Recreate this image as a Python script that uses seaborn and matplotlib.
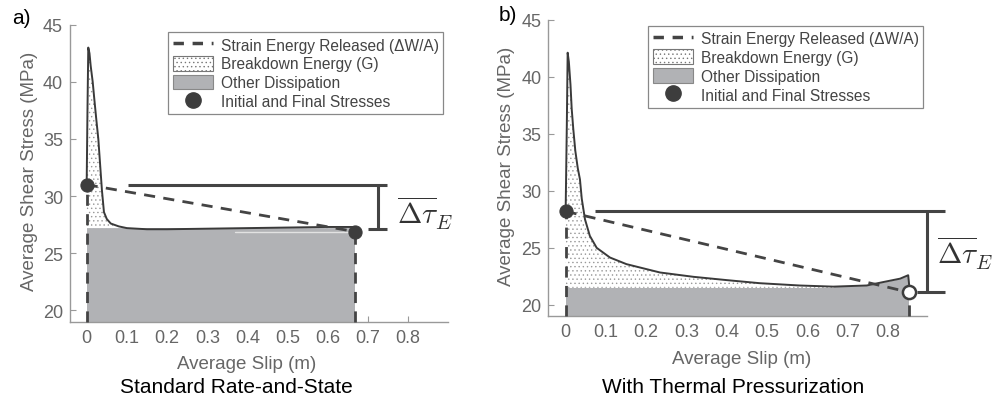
import numpy as np
import matplotlib
matplotlib.use("Agg")
import matplotlib.pyplot as plt
import seaborn as sns
from matplotlib.patches import Patch
from matplotlib.lines import Line2D

sns.set_style("ticks")
plt.rcParams['font.family'] = ['Liberation Sans', 'DejaVu Sans']
plt.rcParams['mathtext.fontset'] = 'cm'
plt.rcParams['hatch.linewidth'] = 0.5

# ---------------- data ----------------
# Panel a: Standard Rate-and-State
slip_a = [0.000, 0.002, 0.004, 0.007, 0.010, 0.015, 0.019, 0.024, 0.029, 0.035,
          0.038, 0.043, 0.050, 0.060, 0.080, 0.100, 0.150, 0.200, 0.300, 0.400,
          0.500, 0.600, 0.667]
stress_a = [31.0, 37.5, 43.0, 42.5, 41.4, 40.0, 38.5, 36.7, 35.0, 32.0,
            30.5, 28.6, 28.0, 27.6, 27.35, 27.2, 27.1, 27.1, 27.15, 27.2,
            27.25, 27.3, 27.3]
init_a = (0.0, 31.0)
final_a = (0.667, 26.9)
base_a = 27.2

# Panel b: With Thermal Pressurization
slip_b = [0.000, 0.003, 0.005, 0.008, 0.012, 0.015, 0.019, 0.024, 0.030, 0.0355,
          0.040, 0.048, 0.060, 0.077, 0.110, 0.151, 0.234, 0.317, 0.400, 0.482,
          0.580, 0.664, 0.747, 0.788, 0.830, 0.850, 0.853]
stress_b = [28.2, 36.0, 42.1, 41.3, 39.3, 37.2, 35.4, 33.5, 32.0, 31.0,
            29.3, 27.5, 26.05, 25.0, 24.15, 23.57, 22.84, 22.46, 22.17, 21.9,
            21.7, 21.6, 21.7, 22.0, 22.3, 22.6, 21.5]
init_b = (0.0, 28.2)
final_b = (0.853, 21.1)
base_b = 21.5

xticks = [0, 0.1, 0.2, 0.3, 0.4, 0.5, 0.6, 0.7, 0.8]
xtick_labels = ["0", "0.1", "0.2", "0.3", "0.4", "0.5", "0.6", "0.7", "0.8"]
yticks = [20, 25, 30, 35, 40, 45]
legend_labels = ["Strain Energy Released (\u0394W/A)", "Breakdown Energy (G)",
                 "Other Dissipation", "Initial and Final Stresses"]
titles = ["Standard Rate-and-State", "With Thermal Pressurization"]
panel_tags = ["a)", "b)"]

# ---------------- style ----------------
CURVE = '#3a3a3a'
DARK = '#444444'
FILL = '#b1b2b5'
SPINE = '#999999'
TXT = '#666666'

fig = plt.figure(figsize=(10.07, 4.02), dpi=100)
ax_a = fig.add_axes([0.0695, 0.197, 0.3754, 0.739])
ax_b = fig.add_axes([0.5445, 0.2107, 0.3758, 0.738])


def draw_panel(ax, slip, stress, init, final, base, xlim, open_final,
               bracket, label_xy, xlabel_x, ylabel_x, extra_gray_from=None):
    slip = np.asarray(slip)
    stress = np.asarray(stress)
    ymin = 19.0
    # other dissipation
    ax.fill_between([init[0], final[0]], ymin, base, color=FILL, lw=0, zorder=1)
    # breakdown energy (stipple)
    ax.fill_between(slip, base, stress, where=stress >= base - 1e-9,
                    facecolor='white', hatch='....', edgecolor='#999999',
                    lw=0, zorder=1)
    if extra_gray_from is not None:
        m = slip >= extra_gray_from
        ax.fill_between(slip[m], base, stress[m], color=FILL, lw=0, zorder=1.5)
    # curve
    sns.lineplot(x=slip, y=stress, ax=ax, color=CURVE, lw=1.4, sort=False,
                 estimator=None, zorder=4)
    # light final-stress line
    if not open_final:
        ax.plot([0.37, final[0]], [final[1], final[1]], color='#e2e2e2', lw=1, zorder=2)
    # strain energy dashed line
    sns.lineplot(x=[init[0], final[0]], y=[init[1], final[1]], ax=ax, color=DARK,
                 lw=2, sort=False, estimator=None, zorder=5)
    ax.lines[-1].set_dashes((4, 3))
    # vertical dashed lines
    for (px, py) in (init, final):
        ax.plot([px, px], [ymin, py], color=DARK, lw=2, dashes=(4, 3), zorder=5,
                clip_on=False)
    # markers
    sns.scatterplot(x=[init[0]], y=[init[1]], ax=ax, s=90, color='#3d3d3d',
                    edgecolor='#3d3d3d', zorder=6, clip_on=False)
    if open_final:
        ax.scatter([final[0]], [final[1]], s=90, facecolor='white',
                   edgecolor='#3d3d3d', lw=1.8, zorder=6, clip_on=False)
    else:
        sns.scatterplot(x=[final[0]], y=[final[1]], ax=ax, s=90, color='#3d3d3d',
                        edgecolor='#3d3d3d', zorder=6, clip_on=False)
    # bracket
    hx0, hx1, vx, sx0, sx1, ytop, ybot = bracket
    kw = dict(color=DARK, lw=2.2, clip_on=False, zorder=5, solid_capstyle='butt')
    ax.plot([hx0, hx1], [ytop, ytop], **kw)
    ax.plot([vx, vx], [ytop, ybot], **kw)
    ax.plot([sx0, sx1], [ybot, ybot], **kw)
    ax.text(label_xy[0], label_xy[1], r'$\overline{\Delta\tau}_E$', fontsize=21,
            color='#333333', ha='left', va='center', clip_on=False)

    ax.set_xlim(*xlim)
    ax.set_ylim(ymin, 45)
    ax.set_xticks(xticks)
    ax.set_xticklabels(xtick_labels)
    ax.set_yticks(yticks)
    ax.tick_params(direction='in', length=4, width=0.8, color=SPINE,
                   labelsize=13, labelcolor=TXT, pad=5)
    for s in ('top', 'right'):
        ax.spines[s].set_visible(False)
    for s in ('left', 'bottom'):
        ax.spines[s].set_color(SPINE)
        ax.spines[s].set_linewidth(1.0)
    ax.set_xlabel("Average Slip (m)", fontsize=13.5, color=TXT)
    ax.set_ylabel("Average Shear Stress (MPa)", fontsize=13.5, color=TXT)
    ax.xaxis.set_label_coords(xlabel_x, -0.112)
    ax.yaxis.set_label_coords(ylabel_x, 0.51)

    handles = [
        Line2D([0], [0], color=DARK, lw=2.5, dashes=(3, 2.5)),
        Patch(facecolor='white', edgecolor='#777777', hatch='....', lw=0.8),
        Patch(facecolor=FILL, edgecolor='#888888', lw=0.8),
        Line2D([0], [0], marker='o', color='none', markerfacecolor='#3d3d3d',
               markeredgecolor='#3d3d3d', markersize=11),
    ]
    return handles


def add_legend(ax, handles, anchor):
    leg = ax.legend(handles, legend_labels, loc='upper left', bbox_to_anchor=anchor,
                    fontsize=11.2, frameon=True, fancybox=False, framealpha=1,
                    edgecolor='#888888', handlelength=2.6, handleheight=1.1,
                    borderpad=0.3, labelspacing=0.2, handletextpad=0.5,
                    borderaxespad=0)
    leg.get_frame().set_linewidth(0.9)
    for t in leg.get_texts():
        t.set_color('#444444')


h = draw_panel(ax_a, slip_a, stress_a, init_a, final_a, base_a,
               (-0.0415, 0.899), False,
               (0.102, 0.746, 0.724, 0.699, 0.746, 31.0, 27.1),
               (0.772, 28.6), 0.466, -0.084)
add_legend(ax_a, h, (0.259, 0.975))

h = draw_panel(ax_b, slip_b, stress_b, init_b, final_b, base_b,
               (-0.043, 0.896), True,
               (0.073, 0.941, 0.896, 0.871, 0.941, 28.2, 21.1),
               (0.922, 24.6), 0.511, -0.088, extra_gray_from=0.664)
add_legend(ax_b, h, (0.263, 0.979))

fig.text(0.235, 0.035, titles[0], fontsize=15, color='black', ha='center', va='center')
fig.text(0.728, 0.037, titles[1], fontsize=15, color='black', ha='center', va='center')
fig.text(0.012, 0.955, panel_tags[0], fontsize=15, color='black', ha='left', va='center')
fig.text(0.495, 0.962, panel_tags[1], fontsize=15, color='black', ha='left', va='center')

fig.savefig("out.png", dpi=100)
